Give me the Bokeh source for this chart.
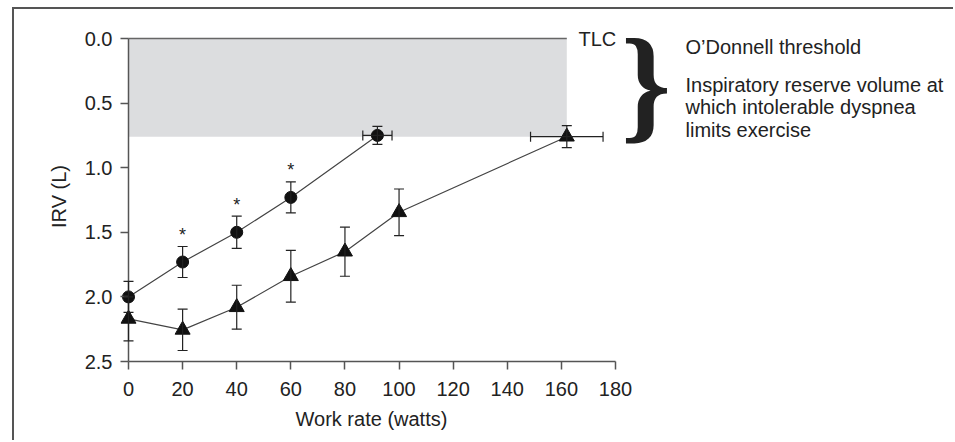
from bokeh.plotting import figure
from bokeh.models import (Range1d, FixedTicker, Whisker, ColumnDataSource, TeeHead,
                          Label, Title, NumeralTickFormatter)
from bokeh.core.properties import value
from bokeh.embed import file_html
from bokeh.resources import INLINE

# ---------------- data ----------------
work_circle = [0, 20, 40, 60, 92]
irv_circle = [2.00, 1.73, 1.50, 1.23, 0.75]
irv_circle_err = [0.12, 0.12, 0.125, 0.12, 0.07]
work_circle_err = [0, 0, 0, 0, 5.4]

work_tri = [0, 20, 40, 60, 80, 100, 162]
irv_tri = [2.17, 2.255, 2.08, 1.84, 1.65, 1.345, 0.76]
irv_tri_err = [0.17, 0.16, 0.17, 0.20, 0.19, 0.18, 0.085]
work_tri_err = [0, 0, 0, 0, 0, 0, 13.4]

signif_work = [20, 40, 60]          # points marked with *
threshold_irv = 0.76                # O'Donnell threshold (IRV below TLC)

x_ticks = [0, 20, 40, 60, 80, 100, 120, 140, 160, 180]
y_ticks = [0.0, 0.5, 1.0, 1.5, 2.0, 2.5]

x_label = "Work rate (watts)"
y_label = "IRV (L)"
tlc_text = "TLC"
note_title = "O\u2019Donnell threshold"
note_lines = ["Inspiratory reserve volume at", "which intolerable dyspnea", "limits exercise"]

# ---------------- layout (page pixels) ----------------
OX, OY = 14, 9                      # canvas origin on the page (margin + border)
W, H = 955 - OX, 442 - OY
X0_PX, X180_PX = 128, 615
Y0_PX, Y25_PX = 38, 361
FRAME_LEFT_PX = 120
FRAME_TOP_PX = 31
kx = (X180_PX - X0_PX) / 180.0
ky = (Y25_PX - Y0_PX) / 2.5
x_lo = -(X0_PX - FRAME_LEFT_PX) / kx
x_hi = (955 - X0_PX) / kx
y_top = (FRAME_TOP_PX - Y0_PX) / ky

def dx(px):
    return (px - X0_PX) / kx

def dy(py):
    return (py - Y0_PX) / ky

FONT = "Liberation Sans"
TXT = "#222222"
AX = "#555555"

p = figure(width=W, height=H, x_range=Range1d(x_lo, x_hi), y_range=Range1d(2.5, y_top),
           output_backend="svg", toolbar_location=None,
           min_border_left=FRAME_LEFT_PX - OX, min_border_right=0,
           min_border_top=FRAME_TOP_PX - OY, min_border_bottom=H - (Y25_PX - OY))
p.margin = (7, 0, 0, 12)
p.styles = {"border-left": "2px solid #555555", "border-top": "2px solid #555555"}
p.outline_line_color = None
p.grid.visible = False
p.background_fill_color = "white"
p.border_fill_color = "white"

for ax in (p.xaxis, p.yaxis):
    ax.major_tick_line_color = AX
    ax.major_tick_line_width = 1.5
    ax.minor_tick_line_color = None
    ax.major_label_text_font = FONT
    ax.major_label_text_font_size = "20px"
    ax.major_label_text_color = TXT

p.xaxis.ticker = FixedTicker(ticks=x_ticks)
p.xaxis.bounds = (0, 180)
p.xaxis.axis_line_color = AX
p.xaxis.axis_line_width = 1.5
p.xaxis.major_tick_out = 8
p.xaxis.major_tick_in = 0
p.xaxis.major_label_standoff = 12

p.yaxis.ticker = FixedTicker(ticks=y_ticks)
p.yaxis.bounds = (0, 2.5)
p.yaxis.formatter = NumeralTickFormatter(format="0.0")
p.yaxis.axis_line_color = None
p.yaxis.major_tick_out = 0
p.yaxis.major_tick_in = X0_PX - FRAME_LEFT_PX
p.yaxis.major_label_standoff = 8
p.yaxis.axis_label = y_label
p.yaxis.axis_label_text_font = FONT
p.yaxis.axis_label_text_font_size = "20px"
p.yaxis.axis_label_text_font_style = "normal"
p.yaxis.axis_label_text_color = TXT
p.yaxis.axis_label_standoff = 12

# x-axis title, placed under the axis, starting at the same left edge as the reference
p.add_layout(Title(text=x_label, align="left", offset=295 - FRAME_LEFT_PX, standoff=14,
                   text_font=FONT, text_font_size="20px", text_font_style="normal",
                   text_color=TXT), "below")

# shaded threshold zone
box_right = max(work_tri)
p.quad(left=[0], right=[box_right], top=[0], bottom=[threshold_irv],
       fill_color="#dcdddf", line_color=None, level="underlay")
p.segment(x0=[0], y0=[0], x1=[box_right], y1=[0], line_color="#666666", line_width=1.5)
# y-axis line drawn at work rate 0
p.segment(x0=[0], y0=[y_ticks[0]], x1=[0], y1=[y_ticks[-1]], line_color=AX, line_width=1.5)

# series lines
p.line(work_circle, irv_circle, line_color="#444444", line_width=1.2)
p.line(work_tri, irv_tri, line_color="#444444", line_width=1.2)

def add_errors(xs, ys, yerr, xerr):
    src = ColumnDataSource(dict(x=xs, lo=[y - e for y, e in zip(ys, yerr)],
                                hi=[y + e for y, e in zip(ys, yerr)]))
    p.add_layout(Whisker(source=src, base="x", lower="lo", upper="hi", dimension="height",
                         level="annotation", line_color="#222222", line_width=1.2,
                         upper_head=TeeHead(size=10, line_color="#222222", line_width=1.2),
                         lower_head=TeeHead(size=10, line_color="#222222", line_width=1.2)))
    idx = [i for i, e in enumerate(xerr) if e > 0]
    if idx:
        hsrc = ColumnDataSource(dict(y=[ys[i] for i in idx],
                                     lo=[xs[i] - xerr[i] for i in idx],
                                     hi=[xs[i] + xerr[i] for i in idx]))
        p.add_layout(Whisker(source=hsrc, base="y", lower="lo", upper="hi", dimension="width",
                             level="annotation", line_color="#222222", line_width=1.2,
                             upper_head=TeeHead(size=10, line_color="#222222", line_width=1.2),
                             lower_head=TeeHead(size=10, line_color="#222222", line_width=1.2)))

add_errors(work_circle, irv_circle, irv_circle_err, work_circle_err)
add_errors(work_tri, irv_tri, irv_tri_err, work_tri_err)

p.scatter(work_circle, irv_circle, marker="circle", size=12,
          fill_color="#111111", line_color="#111111")
p.scatter(work_tri, irv_tri, marker="triangle", size=15,
          fill_color="#111111", line_color="#111111")

# significance asterisks
star_y = [irv_circle[work_circle.index(w)] - 0.21 for w in signif_work]
p.text(x=signif_work, y=star_y, text=["*"] * len(signif_work), text_font=value(FONT),
       text_font_size="18px", text_color=TXT, text_align="center", text_baseline="alphabetic")

def add_label(x, y, text, size="20px", font=FONT, align="left", baseline="middle", style="normal"):
    p.add_layout(Label(x=x, y=y, text=text, text_font=font, text_font_size=size,
                       text_font_style=style, text_color=TXT, text_align=align,
                       text_baseline=baseline))

# annotations on the right
add_label(dx(578), 0, tlc_text)
add_label(dx(620.5), dy(82), "}", size="127px", font="Liberation Serif", baseline="alphabetic",
          style="bold")
add_label(dx(685), dy(46), note_title)
for i, line in enumerate(note_lines):
    add_label(dx(685), dy(84 + 22.5 * i), line)

open("out.html", "w").write(file_html(p, INLINE))
